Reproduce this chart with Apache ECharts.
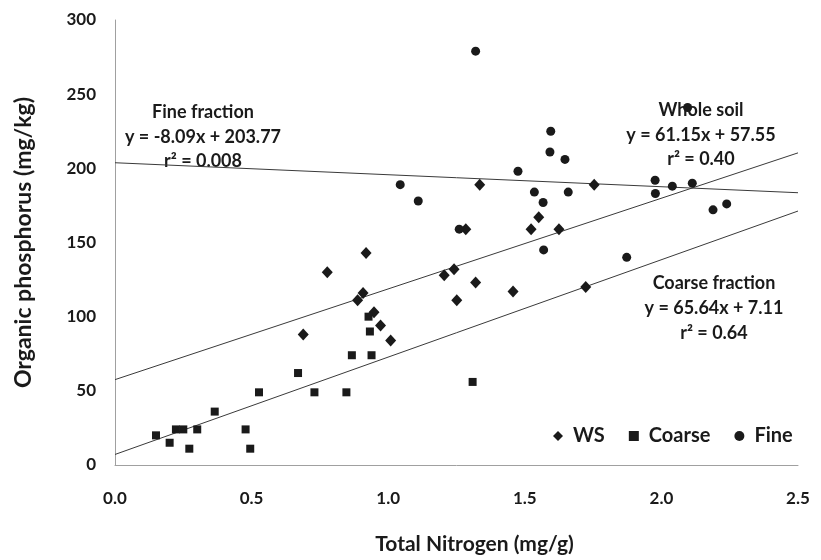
<!DOCTYPE html>
<html>
<head>
<meta charset="utf-8">
<script src="https://cdn.jsdelivr.net/npm/echarts@6/dist/echarts.min.js"></script>
<style>
html,body{margin:0;padding:0;background:#fff;}
#chart{width:821px;height:560px;}
</style>
</head>
<body>
<div id="chart"></div>
<script>
// Whole soil (WS) points [Total N, Organic P]
var wsData = [
  [0.689, 88], [0.777, 130], [0.888, 111], [0.908, 116], [0.919, 143],
  [0.948, 103], [0.972, 94], [1.009, 84], [1.205, 128], [1.241, 132],
  [1.251, 111], [1.284, 159], [1.320, 123], [1.335, 189], [1.457, 117],
  [1.523, 159], [1.551, 167], [1.625, 159], [1.723, 120], [1.754, 189]
];
// Coarse fraction points
var coarseData = [
  [0.150, 20], [0.200, 15], [0.223, 24], [0.250, 24], [0.272, 11],
  [0.301, 24], [0.365, 36], [0.478, 24], [0.495, 11], [0.527, 49],
  [0.670, 62], [0.730, 49], [0.847, 49], [0.867, 74], [0.928, 100],
  [0.933, 90], [0.939, 74], [1.309, 56]
];
// Fine fraction points
var fineData = [
  [1.044, 189], [1.110, 178], [1.260, 159], [1.320, 279], [1.475, 198],
  [1.535, 184], [1.567, 177], [1.569, 145], [1.592, 211], [1.595, 225],
  [1.647, 206], [1.659, 184], [1.873, 140], [1.977, 192], [1.978, 183],
  [2.040, 188], [2.096, 241], [2.113, 190], [2.189, 172], [2.239, 176]
];
// Trend line endpoints (from the printed equations, x = 0 and x = 2.5)
var wsTrend = [[0, 57.55], [2.5, 210.43]];
var coarseTrend = [[0, 7.11], [2.5, 171.21]];
var fineTrend = [[0, 203.77], [2.5, 183.55]];

var seriesNames = ['WS', 'Coarse', 'Fine'];
var xTitle = 'Total Nitrogen (mg/g)';
var yTitle = 'Organic phosphorus (mg/kg)';
var fineLabel = ['Fine fraction', 'y = -8.09x + 203.77', 'r\u00b2 = 0.008'];
var wsLabel = ['Whole soil', 'y = 61.15x + 57.55', 'r\u00b2 = 0.40'];
var coarseLabel = ['Coarse fraction', 'y = 65.64x + 7.11', 'r\u00b2 = 0.64'];

var FONT = 'Lato';
var TXT = '#1a1a1a';
var MARK = '#1a1a1a';

function trend(d) {
  return {
    type: 'line', data: d, symbol: 'none', silent: true, z: 1,
    lineStyle: { color: '#3a3a3a', width: 1 }
  };
}
function annot(lines, cx, ys) {
  return lines.map(function (t, i) {
    return {
      type: 'text', x: cx, y: ys[i], z: 0,
      style: { text: t, fill: TXT, font: 'bold 18px ' + FONT, align: 'center', verticalAlign: 'middle' }
    };
  });
}

var chart = echarts.init(document.getElementById('chart'));
chart.setOption({
  animation: false,
  backgroundColor: '#ffffff',
  grid: { left: 115, right: 23, top: 20, bottom: 92, containLabel: false },
  xAxis: {
    type: 'value', min: 0, max: 2.5, interval: 0.5,
    name: xTitle, nameLocation: 'middle', nameGap: 69,
    nameTextStyle: { fontFamily: FONT, fontWeight: 'bold', fontSize: 21, color: TXT, padding: [0, 0, 0, 36] },
    axisLine: { show: true, lineStyle: { color: '#a0a0a0', width: 1 } },
    axisTick: { show: false },
    splitLine: { show: false },
    axisLabel: {
      margin: 25, fontFamily: FONT, fontWeight: 'bold', fontSize: 17, color: TXT,
      formatter: function (v) { return v.toFixed(1); }
    }
  },
  yAxis: {
    type: 'value', min: 0, max: 300, interval: 50,
    name: yTitle, nameLocation: 'middle', nameGap: 80,
    nameTextStyle: { fontFamily: FONT, fontWeight: 'bold', fontSize: 23, color: TXT },
    axisLine: { show: true, lineStyle: { color: '#a0a0a0', width: 1 } },
    axisTick: { show: false },
    splitLine: { show: false },
    axisLabel: { margin: 19, fontFamily: FONT, fontWeight: 'bold', fontSize: 17, color: TXT }
  },
  legend: {
    data: seriesNames,
    left: 548, top: 421,
    itemWidth: 10, itemHeight: 10, itemGap: 24,
    textStyle: { fontFamily: FONT, fontWeight: 'bold', fontSize: 20, color: TXT, padding: [0, 0, 0, 5] }
  },
  series: [
    trend(wsTrend), trend(coarseTrend), trend(fineTrend),
    { name: seriesNames[0], type: 'scatter', data: wsData, symbol: 'diamond', symbolSize: [11, 12],
      itemStyle: { color: MARK, opacity: 1 }, z: 3 },
    { name: seriesNames[1], type: 'scatter', data: coarseData, symbol: 'rect', symbolSize: 8,
      itemStyle: { color: MARK, opacity: 1 }, z: 3 },
    { name: seriesNames[2], type: 'scatter', data: fineData, symbol: 'circle', symbolSize: 9,
      itemStyle: { color: MARK, opacity: 1 }, z: 3 }
  ],
  graphic: [].concat(
    annot(fineLabel, 203, [112, 137, 161]),
    annot(wsLabel, 701, [110, 135, 159]),
    annot(coarseLabel, 714, [283, 308, 333])
  )
});
</script>
</body>
</html>
